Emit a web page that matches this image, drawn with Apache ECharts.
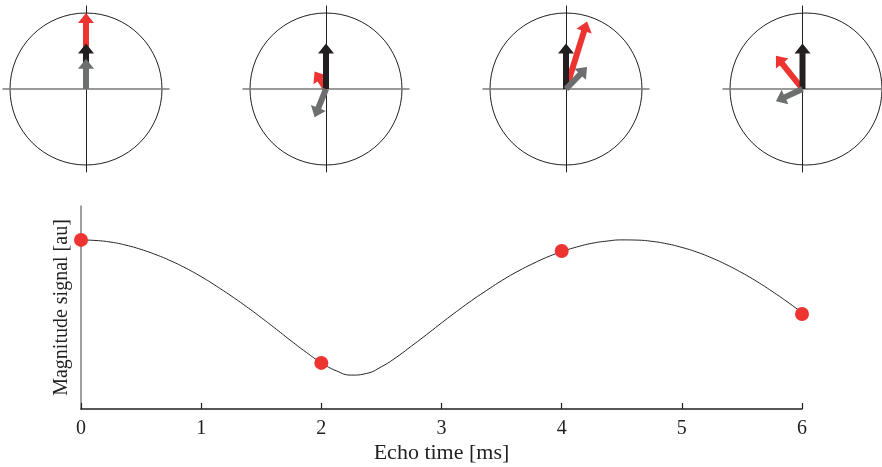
<!DOCTYPE html>
<html>
<head>
<meta charset="utf-8">
<script src="https://cdn.jsdelivr.net/npm/echarts@6/dist/echarts.min.js"></script>
<style>
  html, body { margin: 0; padding: 0; background: #fff; }
  #chart { width: 882px; height: 467px; }
</style>
</head>
<body>
<div id="chart"></div>
<script>
// echo times with their measured magnitude (red dots)
var echoTimes = [0, 2, 4, 6];
var echoSignal = [0.833, 0.227, 0.778, 0.468];

// magnitude curve, every 0.125 ms
var curveTimes = [0, 0.125, 0.25, 0.375, 0.5, 0.625, 0.75, 0.875, 1, 1.125, 1.25, 1.375,
    1.5, 1.625, 1.75, 1.875, 2, 2.125, 2.25, 2.375, 2.5, 2.625, 2.75, 2.875,
    3, 3.125, 3.25, 3.375, 3.5, 3.625, 3.75, 3.875, 4, 4.125, 4.25, 4.375,
    4.5, 4.625, 4.75, 4.875, 5, 5.125, 5.25, 5.375, 5.5, 5.625, 5.75, 5.875, 6];
var curveSignal = [0.833, 0.830, 0.822, 0.807, 0.786, 0.760, 0.729, 0.693, 0.652, 0.606, 0.557, 0.505,
    0.450, 0.393, 0.335, 0.279, 0.228, 0.188, 0.167, 0.175, 0.208, 0.255, 0.310, 0.366,
    0.424, 0.480, 0.534, 0.584, 0.632, 0.675, 0.713, 0.747, 0.775, 0.798, 0.816, 0.827,
    0.833, 0.832, 0.826, 0.814, 0.796, 0.773, 0.744, 0.710, 0.671, 0.628, 0.580, 0.529, 0.475];

// phasors in each circle (same units as the signal): total, water, fat
var sumX = [0, -0.125, 0.231, -0.304];
var sumY = [0.833, 0.191, 0.740, 0.365];
var waterX = [0, 0, 0, 0];
var waterY = [0.5, 0.5, 0.5, 0.5];
var fatX = [0, -0.125, 0.231, -0.304];
var fatY = [0.333, -0.309, 0.240, -0.135];

var xTickLabels = ["0", "1", "2", "3", "4", "5", "6"];

var RED = "#ee3431";
var BLACK = "#231f20";
var GRAY = "#6d6e70";
var arrowColors = [RED, BLACK, GRAY];
var FONT = "Liberation Serif";

var panelCenters = [86, 326, 566, 806];
var panelCy = 89;
var half = 83;

var grids = [{ left: 81, right: 80, top: 206, bottom: 58 }];
var xAxes = [{
    type: "value",
    gridIndex: 0,
    min: 0,
    max: 6,
    interval: 1,
    name: "Echo time [ms]",
    nameLocation: "middle",
    nameGap: 33,
    nameTextStyle: { fontFamily: FONT, fontSize: 22, color: BLACK },
    axisLine: { lineStyle: { color: BLACK, width: 1.5 } },
    axisTick: { inside: true, length: 6, lineStyle: { color: BLACK, width: 1.2 } },
    axisLabel: {
        margin: 10,
        fontFamily: FONT,
        fontSize: 20,
        color: BLACK,
        formatter: function (v) { return xTickLabels[Math.round(v)]; }
    },
    splitLine: { show: false }
}];
var yAxes = [{
    type: "value",
    gridIndex: 0,
    min: 0,
    max: 1,
    name: "Magnitude signal [au]",
    nameLocation: "middle",
    nameGap: 9,
    nameTextStyle: { fontFamily: FONT, fontSize: 20, color: BLACK },
    axisLine: { show: true, lineStyle: { color: "#808080", width: 1.5 } },
    axisTick: { show: false },
    axisLabel: { show: false },
    splitLine: { show: false }
}];
var polars = [];
var angleAxes = [];
var radiusAxes = [];

var series = [
    {
        type: "line",
        xAxisIndex: 0,
        yAxisIndex: 0,
        data: curveTimes.map(function (t, i) { return [t, curveSignal[i]]; }),
        smooth: true,
        showSymbol: false,
        lineStyle: { color: BLACK, width: 1 },
        silent: true
    },
    {
        type: "scatter",
        xAxisIndex: 0,
        yAxisIndex: 0,
        data: echoTimes.map(function (t, i) { return [t, echoSignal[i]]; }),
        symbolSize: 14,
        itemStyle: { color: RED, opacity: 1 },
        clip: false,
        z: 5
    }
];

function renderArrow(params, api) {
    var p0 = api.coord([0, 0]);
    var p1 = api.coord([api.value(0), api.value(1)]);
    var dx = p1[0] - p0[0], dy = p1[1] - p0[1];
    var len = Math.sqrt(dx * dx + dy * dy) || 1;
    var ux = dx / len, uy = dy / len;
    var nx = -uy, ny = ux;
    var headLen = Math.min(10, len), headW = 8, shaftW = 3;
    var bx = p1[0] - ux * headLen, by = p1[1] - uy * headLen;
    return {
        type: "polygon",
        shape: {
            points: [
                [p0[0] + nx * shaftW, p0[1] + ny * shaftW],
                [bx + nx * shaftW, by + ny * shaftW],
                [bx + nx * headW, by + ny * headW],
                [p1[0], p1[1]],
                [bx - nx * headW, by - ny * headW],
                [bx - nx * shaftW, by - ny * shaftW],
                [p0[0] - nx * shaftW, p0[1] - ny * shaftW]
            ]
        },
        style: { fill: arrowColors[api.value(2)] }
    };
}

for (var i = 0; i < panelCenters.length; i++) {
    var cx = panelCenters[i];
    var g = i + 1;
    grids.push({ left: cx - half, top: panelCy - half, width: half * 2, height: half * 2 });
    xAxes.push({
        type: "value", gridIndex: g, min: -0.91, max: 0.91,
        axisLine: { onZero: true, lineStyle: { color: "#7a7a7a", width: 1.5 } },
        axisTick: { show: false }, axisLabel: { show: false }, splitLine: { show: false }
    });
    yAxes.push({
        type: "value", gridIndex: g, min: -0.91, max: 0.91,
        axisLine: { onZero: true, lineStyle: { color: BLACK, width: 1 } },
        axisTick: { show: false }, axisLabel: { show: false }, splitLine: { show: false }
    });
    polars.push({ center: [cx, panelCy], radius: 76 });
    angleAxes.push({
        polarIndex: i,
        axisLine: { show: true, lineStyle: { color: BLACK, width: 1 } },
        axisTick: { show: false }, axisLabel: { show: false }, splitLine: { show: false }
    });
    radiusAxes.push({ polarIndex: i, show: false });
    series.push({
        type: "custom",
        xAxisIndex: g,
        yAxisIndex: g,
        renderItem: renderArrow,
        clip: false,
        silent: true,
        data: [
            [sumX[i], sumY[i], 0],
            [waterX[i], waterY[i], 1],
            [fatX[i], fatY[i], 2]
        ],
        z: 4
    });
}

var phasor_option = {
    animation: false,
    grid: grids,
    xAxis: xAxes,
    yAxis: yAxes,
    polar: polars,
    angleAxis: angleAxes,
    radiusAxis: radiusAxes,
    series: series
};

var echart_1 = echarts.init(document.getElementById("chart"));
echart_1.setOption(phasor_option);
</script>
</body>
</html>
